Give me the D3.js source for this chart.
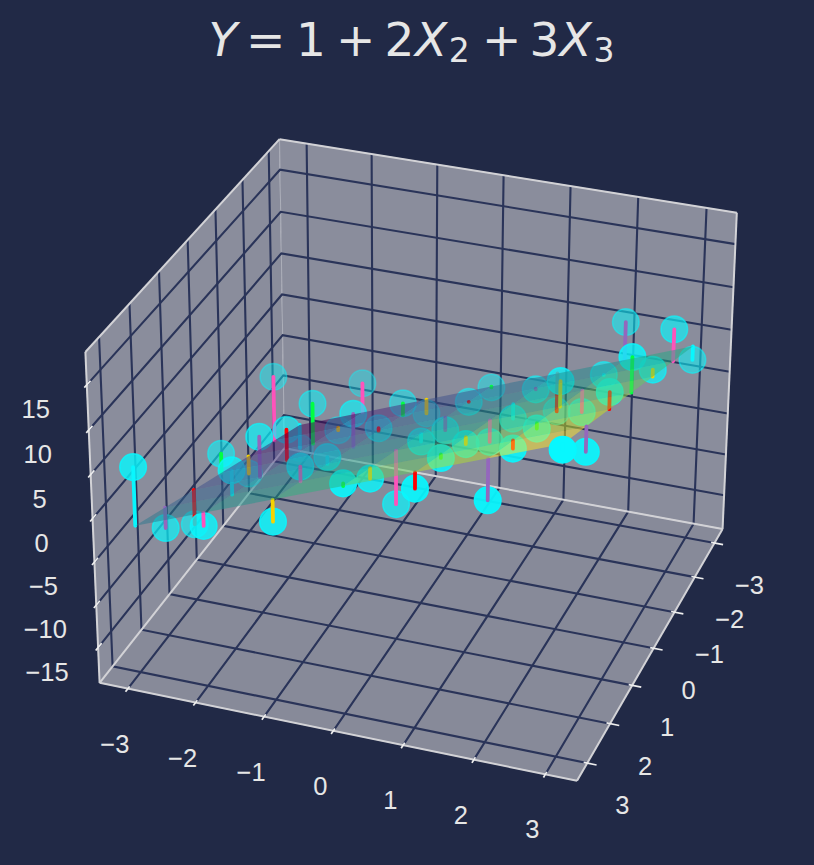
<!DOCTYPE html>
<html><head><meta charset="utf-8"><script src="https://cdn.jsdelivr.net/npm/d3@7"></script>
<style>html,body{margin:0;padding:0;background:#212946}svg{display:block}</style></head><body>
<svg id="c" width="814" height="865"></svg>
<script>
// ---- data ----
const x3Values=[-3,-2,-1,0,1,2,3];           // horizontal front axis
const x2Values=[-3,-2,-1,0,1,2,3];           // right-hand axis
// observed Y, one row per X3 value, one column per X2 value
const yObserved=[
 [-16.9,-4.2,-12.1,-5.7,-10.1,-6.4,4.7],
 [-7.4,-9.3,-2.2,-1.4,1.7,1.8,-0.5],
 [-9.7,-4.6,-3.7,1.9,0.8,3.7,1.5],
 [-5.1,-3.0,-2.5,0.1,-3.2,3.8,7.3],
 [-6.6,-0.1,0.3,1.5,5.2,7.6,8.2],
 [5.5,3.0,2.5,9.9,8.4,10.1,8.4],
 [2.4,9.7,8.8,14.0,13.9,11.2,15.4]];
// fitted plane Y = 1 + 2 X2 + 3 X3 at the same cells
const yFitted=[
 [-14,-12,-10,-8,-6,-4,-2],
 [-11,-9,-7,-5,-3,-1,1],
 [-8,-6,-4,-2,0,2,4],
 [-5,-3,-1,1,3,5,7],
 [-2,0,2,4,6,8,10],
 [1,3,5,7,9,11,13],
 [4,6,8,10,12,14,16]];
const xTicks=[-3,-2,-1,0,1,2,3],yTicks=[-3,-2,-1,0,1,2,3],zTicks=[-15,-10,-5,0,5,10,15];
const stemCycle=['#08F7FE','#FE53BB','#F5D300','#00ff41','#ff0000','#9467bd'];
// ---- 3D frame ----
const xLim=[-3.42,3.44],yLim=[-3.42,3.44],zLim=[-19.2,18.6];
const xS=d3.scaleLinear().domain(xLim).range([0,1]),yS=d3.scaleLinear().domain(yLim).range([0,1]),zS=d3.scaleLinear().domain(zLim).range([0,1]);
const cameraAnchors=[[0,1,0,100,683],[1,1,0,577,780.7],[1,0,0,722.7,529.2],[0,0,0,284,448],[0,1,1,85,352],[1,0,1,736.7,212.7],[0,0,1,280,139.3]];
function solve(A,b){const n=b.length,M=A.map((r,i)=>[...r,b[i]]);for(let i=0;i<n;i++){let p=i;for(let k=i+1;k<n;k++)if(Math.abs(M[k][i])>Math.abs(M[p][i]))p=k;[M[i],M[p]]=[M[p],M[i]];for(let k=0;k<n;k++){if(k==i)continue;const f=M[k][i]/M[i][i];for(let j=i;j<=n;j++)M[k][j]-=f*M[i][j];}}return M.map((r,i)=>r[n]/r[i]);}
const rows=[],rhs=[];cameraAnchors.forEach(([u,v,w,sx,sy])=>{rows.push([u,v,w,1,0,0,0,0,-sx*u,-sx*v,-sx*w]);rhs.push(sx);rows.push([0,0,0,0,u,v,w,1,-sy*u,-sy*v,-sy*w]);rhs.push(sy);});
const ATA=d3.range(11).map(i=>d3.range(11).map(j=>d3.sum(rows,r=>r[i]*r[j])));const ATb=d3.range(11).map(i=>d3.sum(rows,(r,k)=>r[i]*rhs[k]));
const m=solve(ATA,ATb);
const hom=(x,y,z)=>{const u=xS(x),v=yS(y),w=zS(z);return [m[0]*u+m[1]*v+m[2]*w+m[3],m[4]*u+m[5]*v+m[6]*w+m[7],m[8]*u+m[9]*v+m[10]*w+1];};
const P=(x,y,z)=>{const h=hom(x,y,z);return [h[0]/h[2],h[1]/h[2]];};
const depth=(x,y,z)=>hom(x,y,z)[2];
const svg=d3.select('#c');
const line=d3.line();
const poly=a=>line(a)+'Z';
const [x0,x1]=xLim,[y0,y1]=yLim,[z0,z1]=zLim;
// panes
const panes=[{p:[[x0,y0,z0],[x0,y1,z0],[x0,y1,z1],[x0,y0,z1]],f:'rgb(138,141,156)'},{p:[[x0,y0,z0],[x1,y0,z0],[x1,y0,z1],[x0,y0,z1]],f:'rgb(138,141,156)'},{p:[[x0,y0,z0],[x1,y0,z0],[x1,y1,z0],[x0,y1,z0]],f:'rgb(135,138,153)'}];
svg.append('g').selectAll('path').data(panes).join('path').attr('d',d=>poly(d.p.map(c=>P(...c)))).attr('fill',d=>d.f).attr('stroke','rgba(255,255,255,0.3)').attr('stroke-width',1);
// grid
const gridSeg=[];
xTicks.forEach(t=>{gridSeg.push([[t,y1,z0],[t,y0,z0],[t,y0,z1]]);});
yTicks.forEach(t=>{gridSeg.push([[x1,t,z0],[x0,t,z0],[x0,t,z1]]);});
zTicks.forEach(t=>{gridSeg.push([[x0,y1,t],[x0,y0,t],[x1,y0,t]]);});
svg.append('g').selectAll('path').data(gridSeg).join('path').attr('d',d=>line(d.map(c=>P(...c)))).attr('fill','none').attr('stroke','#2A3459').attr('stroke-width',2.1);
// box edges
const axesEdges=[[[x0,y1,z0],[x1,y1,z0]],[[x1,y1,z0],[x1,y0,z0]],[[x0,y1,z0],[x0,y1,z1]],[[x0,y1,z1],[x0,y0,z1]],[[x0,y0,z1],[x1,y0,z1]],[[x1,y0,z1],[x1,y0,z0]],[[x0,y0,z0],[x0,y1,z0]],[[x0,y0,z0],[x1,y0,z0]]];
svg.append('g').selectAll('path').data(axesEdges).join('path').attr('d',d=>line(d.map(c=>P(...c)))).attr('stroke','#d2d2d6').attr('stroke-width',2).attr('fill','none');
// ticks
const tickSegs=[...xTicks.map(t=>[[t,y1-0.06,z0],[t,y1+0.08,z0]]),...yTicks.map(t=>[[x1-0.05,t,z0],[x1+0.13,t,z0]]),...zTicks.map(t=>[[x0,y1-0.12,t],[x0,y1+0.08,t]])];
svg.append('g').selectAll('path').data(tickSegs).join('path').attr('d',d=>line(d.map(c=>P(...c)))).attr('stroke','#eeeeee').attr('stroke-width',1.7);
const fmt=t=>String(t).replace('-','\u2212');
const lab=svg.append('g').attr('font-family','"Liberation Sans"').attr('font-size',25.5).attr('fill','#e6e6e6').attr('text-anchor','middle').attr('dominant-baseline','central');
xTicks.forEach(t=>{const p=P(t,y1,z0);lab.append('text').attr('x',p[0]-13).attr('y',p[1]+55).text(fmt(t));});
yTicks.forEach(t=>{const p=P(x1,t,z0);lab.append('text').attr('x',p[0]+35).attr('y',p[1]+42).text(fmt(t));});
zTicks.forEach(t=>{const p=P(x0,y1,t);lab.append('text').attr('x',p[0]-51).attr('y',p[1]+24).text(fmt(t));});
// points
const pts=[];x3Values.forEach((x,i)=>x2Values.forEach((y,j)=>pts.push({x,y,z:yObserved[i][j],f:yFitted[i][j],col:stemCycle[pts.length%stemCycle.length],front:x===3&&y>=2})));
pts.forEach(d=>{d.dm=depth(d.x,d.y,d.z);d.ds=Math.min(d.dm,depth(d.x,d.y,d.f));});
const alpha=d3.scaleLinear().domain(d3.extent(pts,d=>d.dm)).range([1,0.3]);
function drawArtists(g,list){
 const items=[];list.forEach(d=>{items.push({t:'m',k:d.dm,d});items.push({t:'s',k:d.ds,d});});
 items.sort((a,b)=>b.k-a.k||(a.t==='m'?-1:1));
 items.forEach(it=>{const d=it.d;
  if(it.t==='m'){const p=P(d.x,d.y,d.z),a=alpha(d.dm);g.append('circle').attr('cx',p[0]).attr('cy',p[1]).attr('r',13.3).attr('fill','#08F7FE').attr('fill-opacity',a).attr('stroke','#08F7FE').attr('stroke-opacity',a).attr('stroke-width',1.5);}
  else g.append('path').attr('d',line([P(d.x,d.y,d.z),P(d.x,d.y,d.f)])).attr('stroke',d.col).attr('stroke-width',3.8).attr('stroke-linecap','round');
 });}
drawArtists(svg.append('g'),pts.filter(d=>!d.front));
// plane
const cells=[];for(let i=0;i<6;i++)for(let j=0;j<6;j++)cells.push([[i,j],[i+1,j],[i+1,j+1],[i,j+1]]);
const cz=c=>d3.mean(c,([i,j])=>yFitted[i][j]);
const colS=d3.scaleSequential(d3.interpolateViridis).domain(d3.extent(cells,cz));
svg.append('g').selectAll('path').data(cells).join('path').attr('d',c=>poly(c.map(([i,j])=>P(x3Values[i],x2Values[j],yFitted[i][j])))).attr('fill',c=>colS(cz(c))).attr('fill-opacity',0.5);
drawArtists(svg.append('g'),pts.filter(d=>d.front));
// title
const title=svg.append('text').attr('y',56).attr('font-family','"DejaVu Sans"').attr('font-size',47).attr('fill','#e6e6e6');
const parts=[['Y',208.5,1],['=',246],['1',296],['+',336],['2',384.6],['X',415,1],['2',448.7,0,1],['+',482],['3',529.4],['X',559.5,1],['3',593.6,0,1]];
parts.forEach(([s,x,it,sub])=>{const t=title.append('tspan').attr('x',x).attr('y',sub?62.3:56).text(s);if(it)t.attr('font-style','italic');if(sub)t.attr('font-size',33);});
</script></body></html>
